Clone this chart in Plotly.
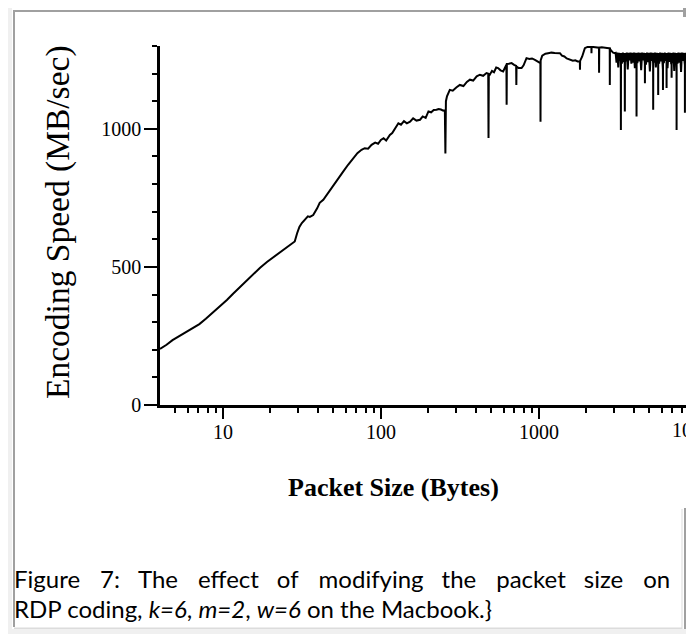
import plotly.graph_objects as go

# ---- data (packet size in bytes, encoding speed in MB/sec) ----
# smooth rise from 4 to 256 bytes
size_low = [4, 4.4, 4.8, 5.3, 5.9, 6.5, 7.1, 7.8, 8.6, 9.5,
            10.6, 11.6, 12.8, 14.1, 15.5, 17.2, 19.0, 21.0, 23.0, 25.3,
            27.7, 28.5, 29.5, 30.5, 31.6, 33.0, 34.5, 35.5, 37.3, 39.5,
            41.0, 43.2, 46.5, 49.9, 53.5, 57.7, 62.0, 66.8, 71.0, 75.4,
            79.0, 83.0, 87.3, 92.0, 96.0, 100, 104, 108, 114, 118,
            122, 126, 129, 134, 140, 146, 153, 160, 168, 177,
            184, 192, 200, 208, 216, 225, 232, 240, 248, 254,
            256, 258]
speed_low = [203, 218, 235, 249, 264, 278, 293, 312, 333, 356,
             380, 403, 427, 451, 475, 497, 518, 537, 554, 571,
             587, 592, 622, 645, 659, 672, 683, 681, 688, 712,
             732, 743, 768, 791, 818, 845, 870, 894, 912, 924,
             930, 928, 942, 950, 946, 960, 966, 958, 978, 985,
             1000, 1012, 1020, 1015, 1028, 1020, 1026, 1038, 1030, 1033,
             1045, 1040, 1063, 1060, 1068, 1069, 1072, 1070, 1066, 1068,
             911, 1100]

# stepped plateau region 262 .. 3027 bytes, with isolated dips
size_mid = [262, 273, 285, 300, 316, 333, 350, 366, 384, 404,
            423, 444, 466, 478, 480, 482, 489, 505, 520, 537,
            552, 572, 594, 610, 623, 625, 627, 645, 672, 697,
            718, 720, 722, 745, 777, 800, 820, 835, 870, 905,
            944, 975, 1010, 1022, 1024, 1026, 1050, 1100, 1145, 1200,
            1260, 1330, 1359, 1400, 1450, 1500, 1571, 1640, 1700, 1760,
            1817, 1820, 1824, 1880, 1940, 1954, 2000, 2048, 2100, 2150,
            2152, 2156, 2208, 2280, 2350, 2400, 2404, 2410, 2500, 2600,
            2700, 2790, 2808, 2812, 2816, 2880, 2950, 3027]
speed_mid = [1118, 1141, 1138, 1150, 1159, 1155, 1170, 1178, 1175, 1190,
             1196, 1192, 1202, 1200, 967, 1198, 1196, 1210, 1205, 1222,
             1220, 1212, 1208, 1225, 1232, 1087, 1235, 1236, 1238, 1232,
             1228, 1159, 1226, 1220, 1220, 1230, 1250, 1256, 1253, 1255,
             1250, 1245, 1240, 1238, 1026, 1248, 1265, 1272, 1274, 1276,
             1275, 1276, 1274, 1265, 1262, 1255, 1250, 1247, 1248, 1244,
             1244, 1214, 1246, 1262, 1290, 1292, 1295, 1297, 1296, 1296,
             1274, 1296, 1296, 1295, 1295, 1294, 1203, 1294, 1295, 1295,
             1293, 1292, 1292, 1159, 1290, 1282, 1276, 1274]

# noisy band above ~3000 bytes
size_high = [3060, 3100, 3140, 3180, 3220, 3260, 3298, 3304, 3310, 3350,
             3400, 3450, 3494, 3500, 3506, 3550, 3600, 3650, 3700, 3750,
             3800, 3850, 3900, 3950, 4000, 4050, 4100, 4144, 4150, 4156,
             4200, 4260, 4320, 4380, 4440, 4500, 4560, 4620, 4684, 4690,
             4696, 4760, 4830, 4900, 4970, 5040, 5110, 5180, 5250, 5284,
             5290, 5296, 5360, 5430, 5500, 5570, 5640, 5684, 5690, 5696,
             5770, 5850, 5930, 6010, 6094, 6100, 6106, 6180, 6260, 6340,
             6424, 6430, 6436, 6520, 6610, 6700, 6790, 6880, 6914, 6920,
             6926, 7010, 7100, 7190, 7280, 7360, 7434, 7440, 7446, 7540,
             7640, 7740, 7840, 7940, 8040, 8140, 8240, 8394, 8400, 8406,
             8500, 8600, 8700, 8770]
speed_high = [1275, 1240, 1276, 1222, 1275, 1246, 1275, 996, 1274, 1236,
              1276, 1242, 1275, 1063, 1274, 1244, 1276, 1215, 1275, 1248,
              1276, 1236, 1275, 1240, 1276, 1220, 1275, 1246, 1045, 1275,
              1238, 1276, 1244, 1275, 1212, 1276, 1248, 1275, 1238, 1165,
              1275, 1232, 1276, 1242, 1275, 1208, 1276, 1246, 1275, 1236,
              1069, 1275, 1240, 1276, 1222, 1275, 1248, 1274, 1123, 1275,
              1236, 1276, 1244, 1275, 1214, 1141, 1275, 1238, 1276, 1246,
              1275, 1148, 1274, 1220, 1276, 1242, 1275, 1234, 1275, 1185,
              1274, 1238, 1276, 1210, 1275, 1246, 1275, 996, 1274, 1236,
              1276, 1240, 1275, 1206, 1276, 1246, 1275, 1232, 1058, 1275,
              1238, 1276, 1242, 1275]

x_major = [10, 100, 1000]
x_major_text = ["10", "100", "1000"]
x_minor = [5, 6, 7, 8, 9, 20, 30, 40, 50, 60, 70, 80, 90,
           200, 300, 400, 500, 600, 700, 800, 900,
           2000, 3000, 4000, 5000, 6000, 7000, 8000]
y_major = [0, 500, 1000]
y_minor = [100, 200, 300, 400, 600, 700, 800, 900, 1100, 1200, 1300]

caption_words = ["Figure", "7:", "The", "effect", "of", "modifying",
                 "the", "packet", "size", "on"]
caption_line2 = "RDP coding, <i>k=6</i>, <i>m=2</i>, <i>w=6</i> on the Macbook.}"

assert len(size_low) == len(speed_low)
assert len(size_mid) == len(speed_mid)
assert len(size_high) == len(speed_high)

# ---- page geometry (page pixels; the html body adds an 8px margin) ----
OFF = 8
W, H = 694 - OFF, 634 - OFF
L, R, T, B = 160, 688, 46, 405      # plot area edges on the page
X_LO, X_HI = 0.602, 0.602 + (R - L) / 158.0   # log10 range, 158 px per decade


def px(x):
    return (x - L) / (R - L)


def py(y):
    return (B - y) / (B - T)


fig = go.Figure()
fig.add_trace(go.Scatter(
    x=size_low + size_mid + size_high,
    y=speed_low + speed_mid + speed_high,
    mode="lines",
    line=dict(color="black", width=2),
    showlegend=False,
    hoverinfo="skip",
))

serif = "Liberation Serif, Times New Roman, serif"
sans = "Lato, Carlito, sans-serif"

fig.update_xaxes(
    type="log", range=[X_LO, X_HI],
    showline=True, linecolor="black", linewidth=2.5,
    showgrid=False, zeroline=False,
    tickmode="array", tickvals=x_major, ticktext=x_major_text,
    ticks="outside", ticklen=11, tickwidth=2, tickcolor="black",
    tickfont=dict(family=serif, size=20, color="black"),
    ticklabelstandoff=-4,
    minor=dict(tickmode="array", tickvals=x_minor, ticks="outside",
               ticklen=5, tickwidth=1.5, tickcolor="black"),
)
fig.update_yaxes(
    range=[0, 1300],
    showline=True, linecolor="black", linewidth=2.5,
    showgrid=False, zeroline=False,
    tickmode="array", tickvals=y_major,
    ticks="outside", ticklen=13, tickwidth=2, tickcolor="black",
    tickfont=dict(family=serif, size=20, color="black"),
    ticklabelstandoff=-1,
    minor=dict(tickmode="array", tickvals=y_minor, ticks="outside",
               ticklen=5, tickwidth=1.5, tickcolor="black"),
)


def rect(x0, x1, y0, y1, color, layer="above"):
    return dict(type="rect", xref="paper", yref="paper",
                x0=px(x0), x1=px(x1), y0=py(y0), y1=py(y1),
                fillcolor=color, line=dict(width=0), layer=layer)


# frame around the figure (page chrome)
gray = "#a0a0a0"
light = "#f0f0f0"
shapes = [
    rect(12, 690, 5, 629, "white", layer="below"),
    rect(13, 683, 10, 12, gray),
    rect(13, 15, 10, 627, gray),
    rect(14, 682, 627.5, 629, "#dcdcdc"),
    rect(681.5, 682.5, 509, 629, "#dcdcdc"),
    rect(687.5, 690, 5, 634, gray),
    rect(683, 690, 5, 17, gray),
    rect(684, 690, 508, 634, gray),
    rect(690, 700, 0, 634, light),
    rect(0, 700, 629, 640, light),
]

# justified first caption line: widen the gaps with fixed-width unicode spaces
wide_gap, narrow_gap = "\u2002\u2004", "\u2002\u2005"
caption_line1 = caption_words[0]
for i, word in enumerate(caption_words[1:]):
    caption_line1 += (wide_gap if i % 2 == 0 else narrow_gap) + word

annotations = [
    # the cut-off 10000 label at the right edge
    dict(x=px(697), y=py(430), xref="paper", yref="paper", text="10000",
         showarrow=False, xanchor="center", yanchor="middle",
         font=dict(family=serif, size=20, color="black")),
    # strips drawn after it so the label looks cropped by the frame
    dict(x=px(687.5), y=py(430), xref="paper", yref="paper", text=" ",
         showarrow=False, xanchor="left", yanchor="middle",
         width=2.5, height=40, borderpad=0, bgcolor=gray),
    dict(x=px(690), y=py(430), xref="paper", yref="paper", text=" ",
         showarrow=False, xanchor="left", yanchor="middle",
         width=10, height=40, borderpad=0, bgcolor=light),
    dict(x=px(393), y=py(487), xref="paper", yref="paper",
         text="<b>Packet Size (Bytes)</b>", showarrow=False,
         xanchor="center", yanchor="middle",
         font=dict(family=serif, size=26, color="black")),
    dict(x=px(58), y=py(222), xref="paper", yref="paper",
         text="Encoding Speed (MB/sec)", showarrow=False, textangle=-90,
         xanchor="center", yanchor="middle",
         font=dict(family=serif, size=33.5, color="black")),
    dict(x=px(12), y=py(578), xref="paper", yref="paper",
         text=caption_line1, showarrow=False, xanchor="left", yanchor="middle",
         font=dict(family=sans, size=24, color="black")),
    dict(x=px(12), y=py(608), xref="paper", yref="paper",
         text=caption_line2, showarrow=False, xanchor="left", yanchor="middle",
         font=dict(family=sans, size=24, color="black")),
]

fig.update_layout(
    width=W, height=H,
    margin=dict(l=L - OFF, r=W - (R - OFF), t=T - OFF, b=H - (B - OFF), pad=0),
    paper_bgcolor=light,
    plot_bgcolor="white",
    shapes=shapes,
    annotations=annotations,
)

fig.write_html("out.html")
